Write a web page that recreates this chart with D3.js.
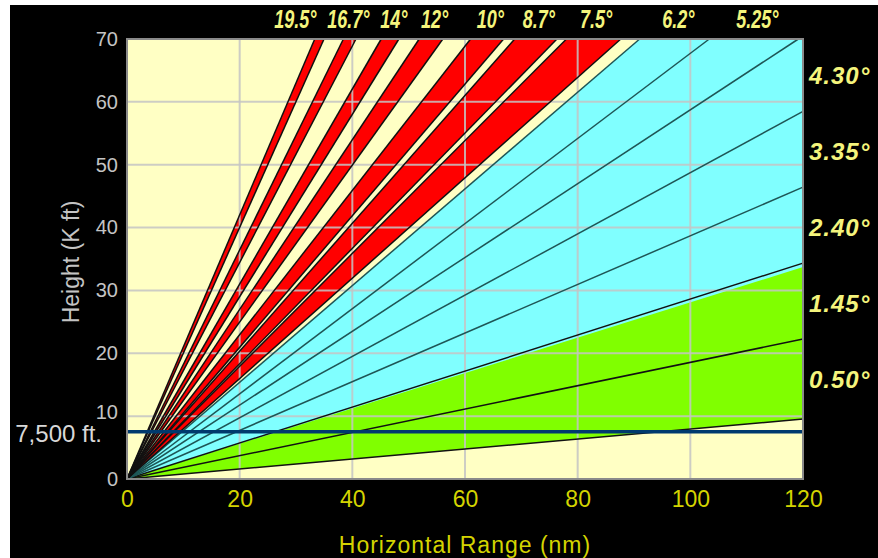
<!DOCTYPE html>
<meta charset="utf-8">
<title>Radar beam coverage</title>
<style>
html, body { margin: 0; padding: 0; background: #fff; }
svg { display: block; }
text { font-family: "Liberation Sans", Arial, sans-serif; }
.grid line { stroke: #c4c4c4; stroke-width: 2; stroke-opacity: .85; }
</style>
<body>
<svg width="878" height="558"></svg>
<script src="https://cdn.jsdelivr.net/npm/d3@7"></script>
<script>

// elevation angles (deg) of each sweep, with its scan mode
var elevations = [0.5, 1.45, 2.4, 3.35, 4.3, 5.25, 6.2, 7.5, 8.7, 10, 12, 14, 16.7, 19.5];
var elevationLabels = ["0.50°", "1.45°", "2.40°", "3.35°", "4.30°", "5.25°", "6.2°", "7.5°", "8.7°", "10°", "12°", "14°", "16.7°", "19.5°"];
var scanModes = ["split", "split", "batch", "batch", "batch", "batch", "batch",
                 "contiguous", "contiguous", "contiguous", "contiguous", "contiguous", "contiguous", "contiguous"];
var beamWidth = 1.0;

var xTicks = [0, 20, 40, 60, 80, 100, 120];
var yTicks = [0, 10, 20, 30, 40, 50, 60, 70];
var refHeights = [7.5];          // K ft
var refLabels = ["7,500 ft."];

var modeFill = { split: "#80ff00", batch: "#80ffff", contiguous: "#ff0000" };
var modeEdge = { split: "#111", batch: "#1e5656", contiguous: "#111" };

var svg = d3.select("svg");

var x = d3.scaleLinear().domain([0, 120]).range([127, 803]),
    y = d3.scaleLinear().domain([0, 70]).range([479, 39]);

var xMax = x.domain()[1], yMax = y.domain()[1];

// beam height (K ft) at range r (nm), 4/3 earth radius
var KE_R = 8495;
function beamHeight(r, el) {
  var rk = r * 1.852, s = Math.sin(el * Math.PI / 180);
  return (rk * s + rk * rk / (2 * KE_R)) * 3.28084;
}

// where a beam edge leaves the plot
function exitPoint(el) {
  var h = beamHeight(xMax, el);
  if (h <= yMax) return [xMax, h];
  var s = Math.sin(el * Math.PI / 180), hk = yMax / 3.28084;
  var rk = KE_R * (-s + Math.sqrt(s * s + 2 * hk / KE_R));
  return [rk / 1.852, yMax];
}

var beams = elevations.map(function(el, i) {
  return {
    el: el,
    label: elevationLabels[i],
    mode: scanModes[i],
    lo: exitPoint(el - beamWidth / 2),
    hi: exitPoint(el + beamWidth / 2),
    mid: exitPoint(el)
  };
});

// page background
svg.append("rect")
    .attr("x", 10).attr("y", 5)
    .attr("width", 868).attr("height", 553)
    .attr("fill", "#000");

// plot background
svg.append("rect")
    .attr("x", x(0)).attr("y", y(yMax))
    .attr("width", x(xMax) - x(0)).attr("height", y(0) - y(yMax))
    .attr("fill", "#ffffc4");

// beam fills
svg.append("g").selectAll("path")
    .data(beams)
    .enter().append("path")
    .attr("fill", function(d) { return modeFill[d.mode]; })
    .attr("d", function(d) {
      var pts = [[0, 0], d.lo];
      if (d.lo[1] < yMax && d.hi[0] < xMax) pts.push([xMax, yMax]);
      pts.push(d.hi);
      return "M" + pts.map(function(p) { return x(p[0]) + "," + y(p[1]); }).join("L") + "Z";
    });

// grid
var grid = svg.append("g").attr("class", "grid");
grid.selectAll("line.v")
    .data(xTicks.slice(1, -1))
    .enter().append("line")
    .attr("x1", x).attr("x2", x)
    .attr("y1", y(0)).attr("y2", y(yMax));
grid.selectAll("line.h")
    .data(yTicks.slice(1, -1))
    .enter().append("line")
    .attr("x1", x(0)).attr("x2", x(xMax))
    .attr("y1", y).attr("y2", y);

// beam edges (a lower edge that touches the previous upper edge is drawn once)
var edges = [];
beams.forEach(function(d, i) {
  var prev = beams[i - 1];
  if (!prev || d.el - beamWidth / 2 > prev.el + beamWidth / 2 + 0.1)
    edges.push({ p: d.lo, mode: d.mode });
  edges.push({ p: d.hi, mode: d.mode });
});
svg.append("g").selectAll("line")
    .data(edges)
    .enter().append("line")
    .attr("x1", x(0)).attr("y1", y(0))
    .attr("x2", function(d) { return x(d.p[0]); })
    .attr("y2", function(d) { return y(d.p[1]); })
    .attr("stroke", function(d) { return modeEdge[d.mode]; })
    .attr("stroke-width", 1.5);

// reference height
svg.append("g").selectAll("line")
    .data(refHeights)
    .enter().append("line")
    .attr("x1", x(0)).attr("x2", x(xMax))
    .attr("y1", y).attr("y2", y)
    .attr("stroke", "#003a6e")
    .attr("stroke-width", 3.5);

svg.append("g").selectAll("text")
    .data(refHeights)
    .enter().append("text")
    .attr("x", x(0) - 25)
    .attr("y", y)
    .attr("dy", "0.42em")
    .attr("text-anchor", "end")
    .attr("fill", "#d8d8d8")
    .style("font-size", "24px")
    .text(function(d, i) { return refLabels[i]; });

// frame
svg.append("rect")
    .attr("x", x(0)).attr("y", y(yMax))
    .attr("width", x(xMax) - x(0)).attr("height", y(0) - y(yMax))
    .attr("fill", "none")
    .attr("stroke", "#8a8a8a")
    .attr("stroke-width", 2);

// axes
var xAxis = svg.append("g")
    .attr("transform", "translate(0," + y(0) + ")")
    .call(d3.axisBottom(x).tickValues(xTicks).tickSize(0).tickPadding(12));
xAxis.select(".domain").remove();
xAxis.selectAll("text")
    .attr("fill", "#d4d400")
    .style("font-size", "23px")
    .style("font-family", "'Liberation Sans', Arial, sans-serif");

var yAxis = svg.append("g")
    .attr("transform", "translate(" + x(0) + ",0)")
    .call(d3.axisLeft(y).tickValues(yTicks).tickSize(0).tickPadding(9));
yAxis.select(".domain").remove();
yAxis.selectAll("text")
    .attr("fill", "#c4c4c4")
    .style("font-size", "20px")
    .style("font-family", "'Liberation Sans', Arial, sans-serif");
yAxis.selectAll(".tick").filter(function(d) { return d === 10; })
    .select("text").attr("dy", "0.1em");

svg.append("text")
    .attr("x", (x(0) + x(xMax)) / 2)
    .attr("y", 553)
    .attr("text-anchor", "middle")
    .attr("fill", "#d4d400")
    .style("font-size", "23px")
    .style("letter-spacing", "1px")
    .text("Horizontal Range (nm)");

svg.append("text")
    .attr("transform", "translate(79," + ((y(0) + y(yMax)) / 2 + 3) + ") rotate(-90)")
    .attr("text-anchor", "middle")
    .attr("fill", "#c4c4c4")
    .style("font-size", "23px")
    .text("Height (K ft)");

// elevation labels: right edge
svg.append("g").selectAll("text")
    .data(beams.filter(function(d) { return d.mid[1] < yMax; }))
    .enter().append("text")
    .attr("x", x(xMax) + 6)
    .attr("y", function(d) { return y(d.mid[1]); })
    .attr("dy", "0.36em")
    .attr("fill", "#f4f47c")
    .style("font-size", "24px")
    .style("font-weight", "bold")
    .style("font-style", "italic")
    .style("letter-spacing", "1px")
    .text(function(d) { return d.label; });

// elevation labels: top, pushed left where they collide
var sx = 0.72;
var topBeams = beams.filter(function(d) { return d.mid[1] >= yMax; })
    .sort(function(a, b) { return b.mid[0] - a.mid[0]; });
var topLabels = svg.append("g").selectAll("text")
    .data(topBeams)
    .enter().append("text")
    .attr("text-anchor", "middle")
    .attr("fill", "#f4f47c")
    .style("font-size", "25px")
    .style("font-weight", "bold")
    .style("font-style", "italic")
    .text(function(d) { return d.label; });

var prevLeft = Infinity;
topLabels.each(function(d) {
  var w = this.getBBox().width * sx,
      cx = Math.min(x(d.mid[0]) + 4, prevLeft - 10 - w / 2);
  prevLeft = cx - w / 2;
  d3.select(this).attr("transform", "translate(" + cx + ",28) scale(" + sx + ",1)");
});

</script>
</body>
